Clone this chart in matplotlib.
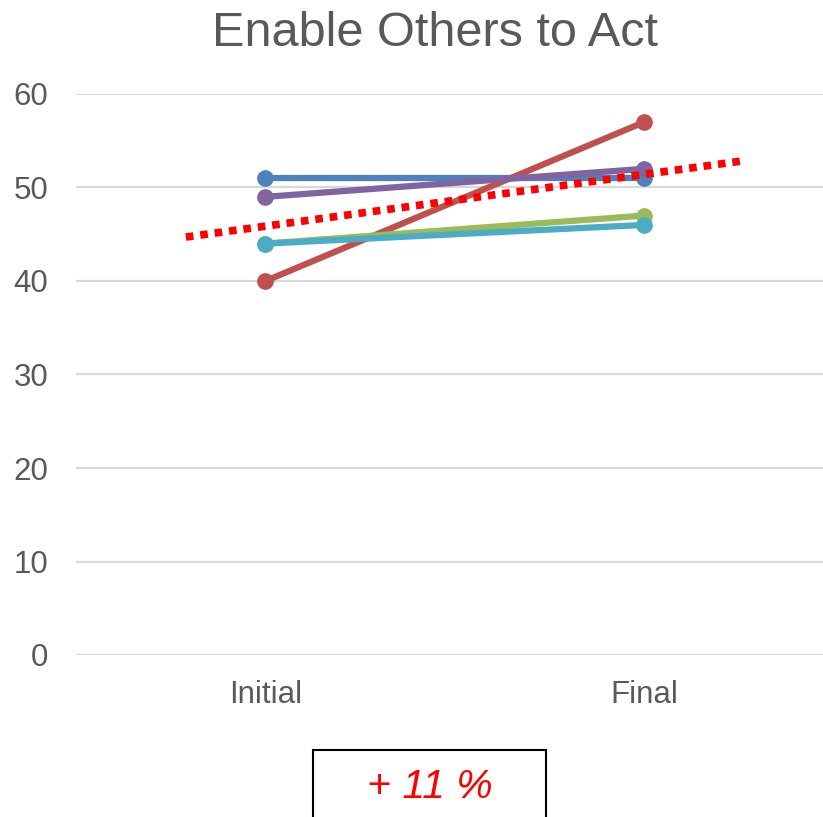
import matplotlib
matplotlib.use("Agg")
import matplotlib.pyplot as plt
from matplotlib.patches import Rectangle

# scores per participant, initial vs final
categories = ["Initial", "Final"]
series_values = [
    [51, 51],
    [40, 57],
    [44, 47],
    [49, 52],
    [44, 46],
]
series_colors = ["#4F81BD", "#C0504D", "#9BBB59", "#8064A2", "#4BACC6"]
y_ticks = [0, 10, 20, 30, 40, 50, 60]

# dotted trend line endpoints (category units)
trend_x = [-0.21, 1.27]
trend_y = [44.7, 52.9]

change_pct = 11

plt.rcParams['font.family'] = ['Liberation Sans', 'DejaVu Sans']

fig = plt.figure(figsize=(8.23, 8.17), dpi=100)
ax = fig.add_axes([76 / 823, (817 - 655) / 817, 1 - 76 / 823, (655 - 94) / 817])

x = list(range(len(categories)))
for vals, col in zip(series_values, series_colors):
    ax.plot(x, vals, color=col, lw=4.5, marker='o', markersize=11,
            solid_capstyle='round', zorder=3)

ax.plot(trend_x, trend_y, color='#FF0000', lw=5.5, linestyle=(0, (1, 0.9)),
        dash_capstyle='butt', zorder=4)

ax.set_xlim(-0.5, 1.472)
ax.set_ylim(0, 60)
ax.set_yticks(y_ticks)
ax.set_xticks(x)
ax.set_xticklabels(categories)
ax.grid(axis='y', color='#D9D9D9', lw=1.6)
ax.set_axisbelow(True)
for s in ax.spines.values():
    s.set_visible(False)
ax.tick_params(axis='both', length=0, labelsize=22.5, labelcolor='#595959')
ax.tick_params(axis='y', pad=20)
ax.tick_params(axis='x', pad=18)
for lbl in ax.get_yticklabels():
    lbl.set_clip_on(False)

fig.text(435 / 823, 1 - 33 / 817, "Enable Others to Act", ha='center', va='center',
         fontsize=35, color='#595959')

# summary box below the chart
box = Rectangle((313 / 823, -0.05), (546 - 313) / 823, (817 - 750) / 817 + 0.05,
                transform=fig.transFigure, fill=False, edgecolor='black', lw=1.5)
fig.patches.append(box)
fig.text(430 / 823, 1 - 787 / 817, f"+ {change_pct} %", ha='center', va='center',
         fontsize=29.5, color='#FF0000', style='italic')

fig.savefig("out.png", dpi=100)
